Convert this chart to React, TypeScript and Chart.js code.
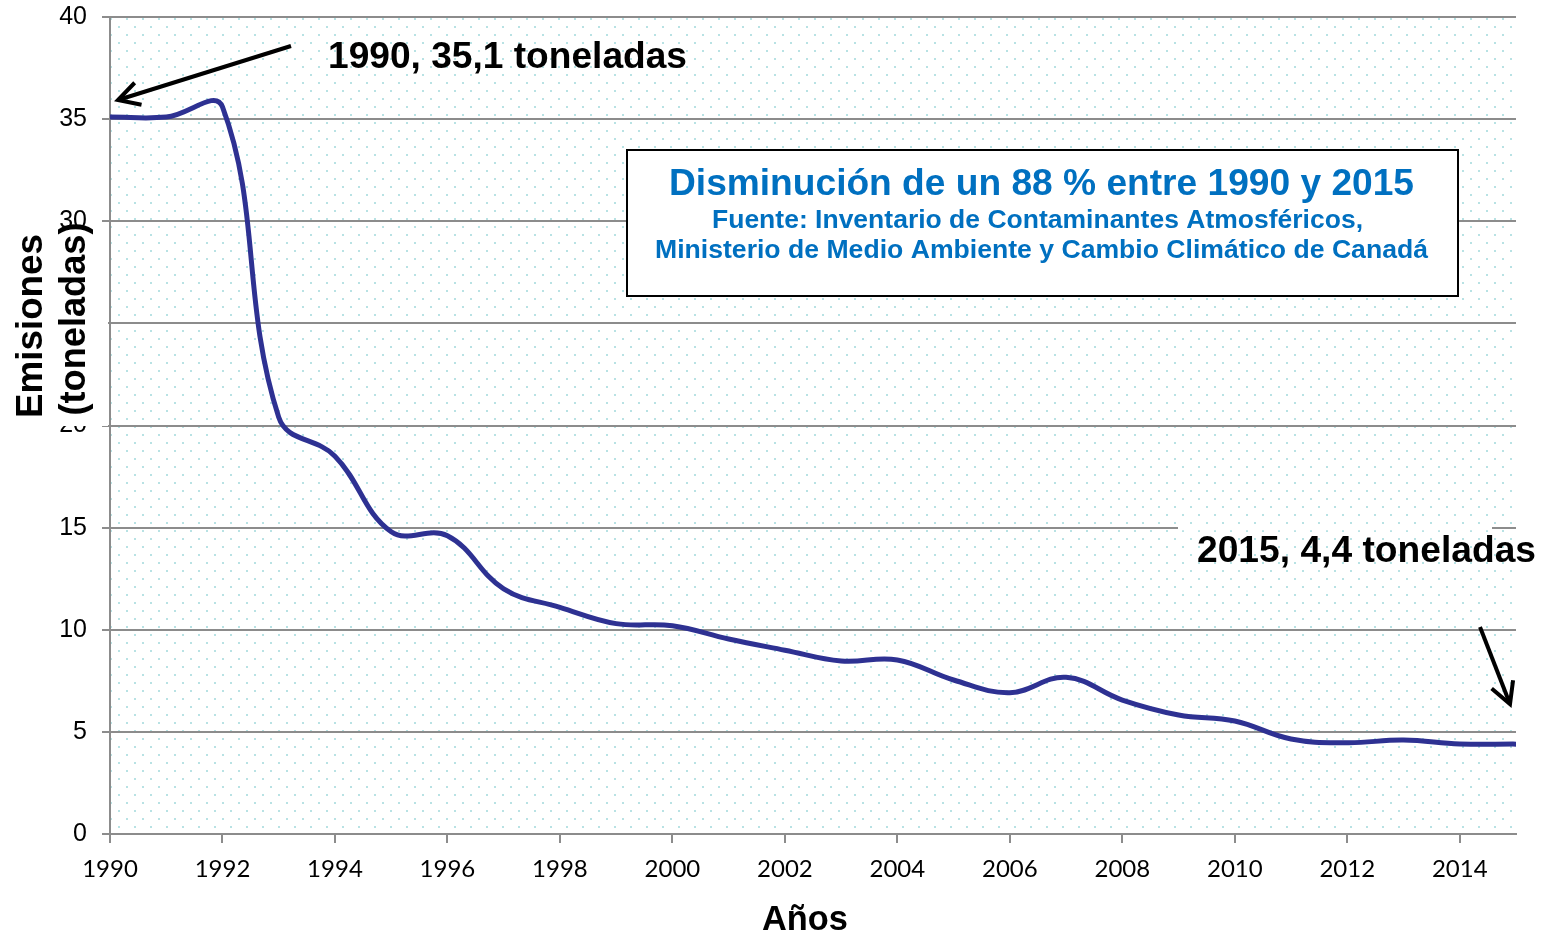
import React, { useEffect, useRef } from 'react';
import { Chart, registerables } from 'chart.js';

Chart.register(...registerables);

// ---- data ----
const years = [1990, 1991, 1992, 1993, 1994, 1995, 1996, 1997, 1998, 1999, 2000, 2001, 2002, 2003, 2004, 2005, 2006, 2007, 2008, 2009, 2010, 2011, 2012, 2013, 2014, 2015];
const emissions = [35.1, 35.1, 35.6, 20.4, 18.5, 14.8, 14.6, 12.0, 11.1, 10.3, 10.2, 9.55, 9.0, 8.47, 8.52, 7.54, 6.92, 7.67, 6.56, 5.83, 5.53, 4.65, 4.47, 4.6, 4.41, 4.4];
const yTickValues = [0, 5, 10, 15, 20, 25, 30, 35, 40];
const xTickYears = [1990, 1992, 1994, 1996, 1998, 2000, 2002, 2004, 2006, 2008, 2010, 2012, 2014];
const yAxisTitleLines = ['Emisiones', '(toneladas)'];
const xAxisTitle = 'Años';
const boxTitle = 'Disminución de un 88 % entre 1990 y 2015';
const boxSourceLines = ['Fuente: Inventario de Contaminantes Atmosféricos,', 'Ministerio de Medio Ambiente y Cambio Climático de Canadá'];
const note1990 = '1990, 35,1 toneladas';
const note2015 = '2015, 4,4 toneladas';

const ARIAL = '"Liberation Sans", Arial, sans-serif';

function makePattern(ctx: CanvasRenderingContext2D) {
  const c = document.createElement('canvas');
  c.width = 16;
  c.height = 16;
  const p = c.getContext('2d')!;
  p.fillStyle = '#b8e2e4';
  p.fillRect(6, 10, 2, 2);
  p.fillRect(14, 2, 2, 2);
  return ctx.createPattern(c, 'repeat')!;
}

// draw text scaled horizontally to a given width
function fitText(ctx: CanvasRenderingContext2D, text: string, x: number, y: number, size: number, width: number, align: CanvasTextAlign) {
  ctx.save();
  ctx.font = `bold ${size}px ${ARIAL}`;
  ctx.textAlign = align;
  ctx.textBaseline = 'alphabetic';
  const w = ctx.measureText(text).width;
  ctx.translate(x, y);
  ctx.scale(width / w, 1);
  ctx.fillText(text, 0, 0);
  ctx.restore();
}

function arrow(ctx: CanvasRenderingContext2D, x1: number, y1: number, x2: number, y2: number) {
  const ang = Math.atan2(y2 - y1, x2 - x1);
  const len = 24;
  const spread = 0.5;
  ctx.save();
  ctx.strokeStyle = '#000';
  ctx.lineWidth = 4;
  ctx.lineCap = 'butt';
  ctx.lineJoin = 'miter';
  ctx.beginPath();
  ctx.moveTo(x1, y1);
  ctx.lineTo(x2, y2);
  ctx.stroke();
  ctx.beginPath();
  ctx.moveTo(x2 - len * Math.cos(ang - spread), y2 - len * Math.sin(ang - spread));
  ctx.lineTo(x2, y2);
  ctx.lineTo(x2 - len * Math.cos(ang + spread), y2 - len * Math.sin(ang + spread));
  ctx.stroke();
  ctx.restore();
}

const backgroundPlugin = {
  id: 'dotBackground',
  beforeDraw(chart: any) {
    const { ctx, chartArea: a } = chart;
    ctx.save();
    ctx.fillStyle = '#ffffff';
    ctx.fillRect(0, 0, chart.width, chart.height);
    ctx.fillStyle = makePattern(ctx);
    ctx.fillRect(a.left, a.top, a.right - a.left, a.bottom - a.top);
    ctx.restore();
  },
  beforeDatasetsDraw(chart: any) {
    // the 2015 note hides part of the 15 gridline
    const { ctx } = chart;
    const y = chart.scales.y.getPixelForValue(15);
    ctx.save();
    ctx.fillStyle = '#ffffff';
    ctx.fillRect(1178, y - 3, 314, 6);
    ctx.fillStyle = makePattern(ctx);
    ctx.fillRect(1178, y - 3, 314, 6);
    ctx.restore();
  },
};

const annotationPlugin = {
  id: 'annotations',
  afterDraw(chart: any) {
    const { ctx } = chart;
    ctx.save();

    // y-axis title with opaque background over the tick labels
    ctx.fillStyle = '#ffffff';
    ctx.fillRect(0, 229, 108, 197);
    ctx.fillStyle = '#000000';
    ctx.save();
    ctx.translate(42, 326);
    ctx.rotate(-Math.PI / 2);
    fitText(ctx, yAxisTitleLines[0], 0, 0, 37, 184, 'center');
    ctx.restore();
    ctx.save();
    ctx.translate(85, 319);
    ctx.rotate(-Math.PI / 2);
    fitText(ctx, yAxisTitleLines[1], 0, 0, 37, 193, 'center');
    ctx.restore();

    // x-axis title
    fitText(ctx, xAxisTitle, 805, 930, 35, 86, 'center');

    // text box
    ctx.fillStyle = '#ffffff';
    ctx.fillRect(626, 149, 832, 147);
    ctx.strokeStyle = '#000000';
    ctx.lineWidth = 2;
    ctx.strokeRect(627, 150, 831, 146);
    ctx.fillStyle = '#0070C0';
    fitText(ctx, boxTitle, 1041.5, 195, 37, 745, 'center');
    fitText(ctx, boxSourceLines[0], 1037.5, 228, 25.5, 651, 'center');
    fitText(ctx, boxSourceLines[1], 1041.5, 258, 25.5, 773, 'center');

    // notes
    ctx.fillStyle = '#000000';
    fitText(ctx, note1990, 328, 68, 37, 359, 'left');
    fitText(ctx, note2015, 1197, 562, 37, 339, 'left');

    arrow(ctx, 291, 46, 118, 100);
    arrow(ctx, 1480, 627, 1510, 704);

    ctx.restore();
  },
};

export default function App() {
  const ref = useRef<HTMLCanvasElement | null>(null);

  useEffect(() => {
    if (!ref.current) return;
    const points = years.map((yr, i) => ({ x: yr, y: emissions[i] }));
    const chart = new Chart(ref.current, {
      type: 'line',
      data: {
        datasets: [
          {
            label: 'Emisiones',
            data: points,
            borderColor: '#2E3192',
            borderWidth: 5,
            pointRadius: 0,
            tension: 0.4,
            fill: false,
            borderCapStyle: 'round',
            borderJoinStyle: 'round',
          },
        ],
      },
      options: {
        responsive: false,
        animation: false,
        devicePixelRatio: 1,
        layout: { padding: { left: 0, right: 33, top: 17, bottom: 0 } },
        plugins: {
          legend: { display: false },
          tooltip: { enabled: false },
        },
        scales: {
          x: {
            type: 'linear',
            min: years[0],
            max: years[years.length - 1],
            afterBuildTicks: (scale: any) => {
              scale.ticks = xTickYears.map((v) => ({ value: v }));
            },
            afterFit: (scale: any) => {
              scale.height = 103;
              scale.paddingLeft = 0;
              scale.paddingRight = 0;
            },
            ticks: {
              callback: (v: any) => String(v),
              color: '#000000',
              font: { family: 'Lato', size: 24 },
              padding: 12,
              maxRotation: 0,
              autoSkip: false,
            },
            grid: {
              drawOnChartArea: false,
              drawTicks: true,
              tickLength: 9,
              color: '#8c8c8c',
              lineWidth: 2,
            },
            border: { display: true, color: '#8c8c8c', width: 2 },
            title: { display: false, text: xAxisTitle },
          },
          y: {
            type: 'linear',
            min: 0,
            max: 40,
            afterBuildTicks: (scale: any) => {
              scale.ticks = yTickValues.map((v) => ({ value: v }));
            },
            afterFit: (scale: any) => {
              scale.width = 110;
              scale.paddingTop = 0;
              scale.paddingBottom = 0;
            },
            ticks: {
              callback: (v: any) => String(v),
              color: '#000000',
              font: { family: ARIAL, size: 25 },
              padding: 15,
            },
            grid: {
              drawOnChartArea: true,
              drawTicks: true,
              tickLength: 8,
              color: '#8c8c8c',
              lineWidth: 2,
            },
            border: { display: true, color: '#8c8c8c', width: 2 },
          },
        },
      },
      plugins: [backgroundPlugin, annotationPlugin],
    } as any);
    return () => chart.destroy();
  }, []);

  return (
    <div style={{ position: 'absolute', left: 0, top: 0, width: 1549, height: 937 }}>
      <canvas ref={ref} width={1549} height={937} />
    </div>
  );
}
